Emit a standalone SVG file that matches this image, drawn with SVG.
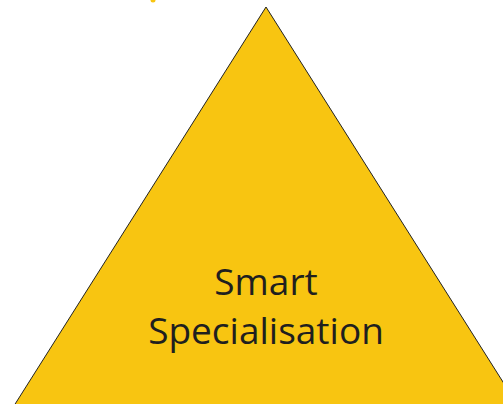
<svg xmlns="http://www.w3.org/2000/svg" width="503" height="404" viewBox="0 0 503 404">
<style>
.tri{fill:#F8C511;stroke:#222;stroke-width:1}
.lbl{font-family:"Open Sans","Noto Sans",sans-serif;font-size:37px;fill:#1f1f1f;text-anchor:middle}
</style>
<rect width="503" height="404" fill="#fff"/>
<ellipse cx="153" cy="0" rx="2.5" ry="2.5" fill="#F8C511"/>
<g id="pyramid">
<polygon class="tri" points="266,7 5,420 527,420"/>
<text class="lbl" x="266" y="295">Smart</text>
<text class="lbl" x="266" y="344">Specialisation</text>
</g>
</svg>
